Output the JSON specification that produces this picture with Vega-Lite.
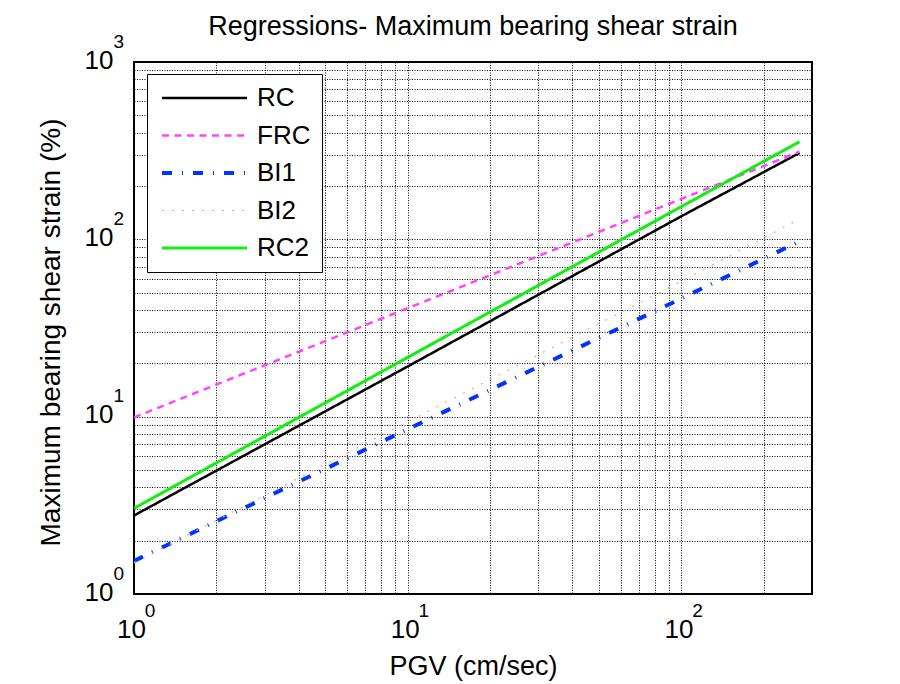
{
  "$schema": "https://vega.github.io/schema/vega-lite/v6.json",
  "width": 678,
  "height": 532,
  "autosize": {"type": "none"},
  "padding": {"left": 134, "top": 62, "right": 88, "bottom": 90},
  "background": "white",
  "title": {
    "text": "Regressions- Maximum bearing shear strain",
    "fontSize": 27,
    "fontWeight": "normal",
    "font": "Liberation Sans",
    "frame": "group",
    "anchor": "middle",
    "baseline": "alphabetic",
    "offset": -30,
    "color": "black"
  },
  "data": {
    "values": [
      {"series": "RC", "pgv": 1, "strain": 2.77},
      {"series": "RC", "pgv": 10, "strain": 19.2},
      {"series": "RC", "pgv": 100, "strain": 135},
      {"series": "RC", "pgv": 270, "strain": 307},
      {"series": "FRC", "pgv": 1, "strain": 9.9},
      {"series": "FRC", "pgv": 10, "strain": 40.9},
      {"series": "FRC", "pgv": 100, "strain": 169},
      {"series": "FRC", "pgv": 270, "strain": 312},
      {"series": "BI1", "pgv": 1, "strain": 1.535},
      {"series": "BI1", "pgv": 10, "strain": 8.5},
      {"series": "BI1", "pgv": 100, "strain": 46.4},
      {"series": "BI1", "pgv": 265, "strain": 96},
      {"series": "BI2", "pgv": 1, "strain": 1.5},
      {"series": "BI2", "pgv": 10, "strain": 9.35},
      {"series": "BI2", "pgv": 100, "strain": 58},
      {"series": "BI2", "pgv": 265, "strain": 128},
      {"series": "RC2", "pgv": 1, "strain": 3.04},
      {"series": "RC2", "pgv": 10, "strain": 21.6},
      {"series": "RC2", "pgv": 100, "strain": 153},
      {"series": "RC2", "pgv": 270, "strain": 355}
    ]
  },
  "layer": [
    {
      "mark": {"type": "line", "clip": true},
      "encoding": {
        "x": {
          "field": "pgv",
          "type": "quantitative",
          "scale": {"type": "log", "domain": [1, 300], "nice": false},
          "axis": {
            "orient": "bottom",
            "title": "PGV (cm/sec)",
            "titleFontSize": 27,
            "titleY": 80,
            "titleBaseline": "alphabetic",
            "values": [1, 2, 3, 4, 5, 6, 7, 8, 9, 10, 20, 30, 40, 50, 60, 70, 80, 90, 100, 200],
            "labelExpr": "indexof([1, 10, 100, 1000], datum.value) >= 0 ? '10' : ''",
            "labelFontSize": 26,
            "labelPadding": 22,
            "labelOffset": -3,
            "labelBaseline": "top",
            "labelAlign": "center",
            "labelOverlap": false,
            "labelFlush": false,
            "labelBound": false,
            "grid": true
          }
        },
        "y": {
          "field": "strain",
          "type": "quantitative",
          "scale": {"type": "log", "domain": [1, 1000], "nice": false},
          "axis": {
            "orient": "left",
            "title": "Maximum bearing shear strain (%)",
            "titleFontSize": 28,
            "titleX": -75,
            "titleY": 270,
            "titleBaseline": "alphabetic",
            "titleAngle": -90,
            "titleAlign": "center",
            "values": [1, 2, 3, 4, 5, 6, 7, 8, 9, 10, 20, 30, 40, 50, 60, 70, 80, 90, 100, 200, 300, 400, 500, 600, 700, 800, 900, 1000],
            "labelExpr": "indexof([1, 10, 100, 1000], datum.value) >= 0 ? '10' : ''",
            "labelFontSize": 26,
            "labelPadding": 21,
            "labelOffset": -2,
            "labelAlign": "right",
            "labelBaseline": "middle",
            "labelOverlap": false,
            "labelFlush": false,
            "labelBound": false,
            "grid": true
          }
        },
        "color": {
          "field": "series",
          "type": "nominal",
          "scale": {
            "domain": ["RC", "FRC", "BI1", "BI2", "RC2"],
            "range": ["#000000", "#ff44ff", "#0033ff", "#f4a095", "#11ee11"]
          },
          "legend": {"title": null}
        },
        "strokeDash": {
          "field": "series",
          "type": "nominal",
          "scale": {
            "domain": ["RC", "FRC", "BI1", "BI2", "RC2"],
            "range": [[1, 0], [7, 5.5], [10, 10, 1, 10], [2, 8], [1, 0]]
          },
          "legend": {"title": null}
        },
        "strokeWidth": {
          "field": "series",
          "type": "nominal",
          "scale": {
            "type": "ordinal",
            "domain": ["RC", "FRC", "BI1", "BI2", "RC2"],
            "range": [2.5, 2.5, 4, 1.2, 3]
          },
          "legend": {"title": null}
        }
      }
    },
    {
      "mark": {"type": "point", "opacity": 0},
      "encoding": {
        "x": {
          "field": "pgv",
          "type": "quantitative",
          "axis": {
            "orient": "bottom",
            "title": null,
            "values": [1, 10, 100],
            "labelExpr": "round(log(datum.value) / LN10) + ''",
            "labelFontSize": 19,
            "labelPadding": 7,
            "labelOffset": 15.5,
            "labelBaseline": "top",
            "labelAlign": "center",
            "labelOverlap": false,
            "labelFlush": false,
            "labelBound": false,
            "grid": false
          }
        },
        "y": {
          "field": "strain",
          "type": "quantitative",
          "axis": {
            "orient": "left",
            "title": null,
            "values": [1, 10, 100, 1000],
            "labelExpr": "round(log(datum.value) / LN10) + ''",
            "labelFontSize": 19,
            "labelPadding": 21,
            "labelOffset": -21,
            "labelAlign": "left",
            "labelBaseline": "middle",
            "labelOverlap": false,
            "labelFlush": false,
            "labelBound": false,
            "grid": false
          }
        }
      }
    }
  ],
  "resolve": {"axis": {"x": "independent", "y": "independent"}},
  "config": {
    "font": "Liberation Sans",
    "view": {"stroke": "black", "strokeWidth": 2},
    "axis": {
      "gridColor": "black",
      "gridDash": [1, 1.5],
      "gridOpacity": 1,
      "gridWidth": 1,
      "labelColor": "black",
      "titleColor": "black",
      "labelFont": "Liberation Sans",
      "titleFont": "Liberation Sans",
      "titleFontWeight": "normal",
      "domain": false,
      "ticks": false
    },
    "legend": {
      "orient": "none",
      "legendX": 13,
      "legendY": 12,
      "padding": 11,
      "rowPadding": 11.5,
      "strokeColor": "black",
      "fillColor": "white",
      "symbolType": "M-1.8,0H15.2",
      "symbolSize": 100,
      "labelOffset": 73,
      "labelFontSize": 26,
      "labelFont": "Liberation Sans",
      "labelColor": "black",
      "symbolOpacity": 1
    }
  }
}
